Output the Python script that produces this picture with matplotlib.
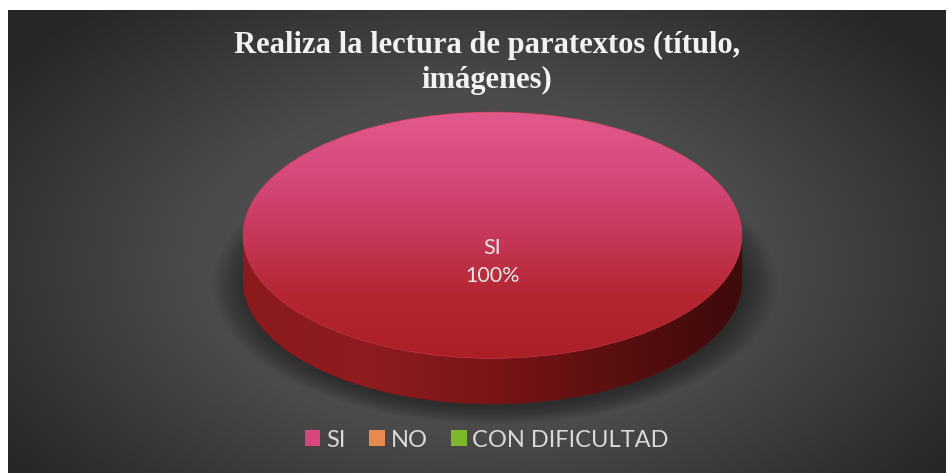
import numpy as np
import matplotlib.pyplot as plt
from matplotlib.patches import Rectangle
from matplotlib.colors import LinearSegmentedColormap

# Datos de la encuesta
categorias = ['SI', 'NO', 'CON DIFICULTAD']
valores = [100, 0, 0]
colores = ['#d9457c', '#e8894e', '#7db82b']
titulo = 'Realiza la lectura de paratextos (título,\nimágenes)'

W, H = 948, 473
fig = plt.figure(figsize=(W / 100, H / 100), dpi=100)
fig.patch.set_facecolor('white')

# Fondo oscuro con degradado radial
bg = fig.add_axes([8 / W, 0, (946 - 8) / W, (H - 10) / H])
bg.set_axis_off()
yy, xx = np.mgrid[0:1:300j, 0:1:600j]
d = np.sqrt(((xx - 0.5) / 0.62) ** 2 + ((yy - 0.55) / 0.75) ** 2)
fondo = np.clip(1 - d, 0, 1)
cmap_bg = LinearSegmentedColormap.from_list('bg', ['#262626', '#4a4a4a', '#5a5a5a'])
bg.imshow(fondo, cmap=cmap_bg, aspect='auto', extent=(0, 1, 0, 1), vmin=0, vmax=1)
bg.set_xlim(0, 1)
bg.set_ylim(0, 1)

# Ejes del pastel: x en [-1, 1], y en [-1 - prof, 1]
prof = 0.37
ax = fig.add_axes([243 / W, (H - 404) / H, 499 / W, 292 / H])
ax.set_axis_off()

# sombra suave bajo el disco
for k in range(12):
    s = ax.pie([1], radius=1.0 + 0.012 * k, center=(0.01, -prof - 0.03),
               colors=['black'])[0][0]
    s.set_alpha(0.035)

# lado del cilindro (base desplazada + rectángulo)
base = ax.pie(valores, center=(0, -prof), colors=['#6a1010'] * 3,
              startangle=90, counterclock=False)[0]
rect = Rectangle((-1, -prof), 2, prof, facecolor='#6a1010', edgecolor='none')
ax.add_patch(rect)
grad_lado = np.linspace(0, 1, 256).reshape(1, -1)
cmap_lado = LinearSegmentedColormap.from_list(
    'lado', ['#8a1a1c', '#8f1c1e', '#7a1517', '#5a0f10', '#3e0a0b'])
for clip in [base[0], rect]:
    im = ax.imshow(grad_lado, cmap=cmap_lado, aspect='auto',
                   extent=(-1, 1, -1 - prof, 0), zorder=2)
    im.set_clip_path(clip)

# cara superior
sup, _ = ax.pie(valores, colors=colores, startangle=90, counterclock=False)
for w in sup:
    w.set_zorder(3)
grad_sup = np.linspace(0, 1, 256).reshape(-1, 1)
cmap_sup = LinearSegmentedColormap.from_list(
    'sup', ['#e2598b', '#d64a7e', '#c6385a', '#b52631', '#ad1f26'])
im = ax.imshow(grad_sup, cmap=cmap_sup, aspect='auto', extent=(-1, 1, -1, 1), zorder=4)
im.set_clip_path(sup[0])
borde = ax.pie([1], colors=['none'],
               wedgeprops=dict(edgecolor='#c83848', linewidth=0.5, alpha=0.6))[0][0]
borde.set_zorder(5)

ax.set_aspect('auto')
ax.set_xlim(-1, 1)
ax.set_ylim(-1 - prof, 1)

# etiqueta de datos
total = sum(valores)
ax.text(0, -0.22, f'{categorias[0]}\n{valores[0] / total * 100:.0f}%',
        ha='center', va='center', color='#e6e6e6', fontsize=15.5,
        fontfamily='Lato', linespacing=1.5, zorder=6)

# título
fig.text(487 / W, 1 - 63 / H, titulo, ha='center', va='center',
         color='#f2f2f2', fontsize=22, fontweight='bold',
         fontfamily='Liberation Serif', linespacing=1.28)

# leyenda
leg = fig.legend(sup, categorias, loc='center', bbox_to_anchor=(487 / W, 1 - 440 / H),
                 ncol=3, frameon=False, handlelength=0.65,
                 handleheight=0.65, handletextpad=0.25, columnspacing=1.0,
                 prop=dict(family='Lato', size=17))
for t in leg.get_texts():
    t.set_color('#d9d9d9')

fig.savefig('out.png', dpi=100, facecolor='white')
